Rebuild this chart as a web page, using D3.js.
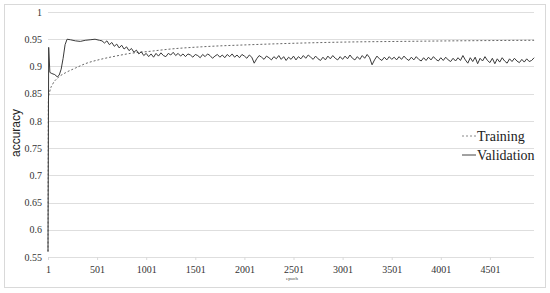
<!DOCTYPE html>
<html>
<head>
<meta charset="utf-8">
<script src="https://cdn.jsdelivr.net/npm/d3@7"></script>
<style>
  body { margin: 0; background: #fff; }
  .serif { font-family: "Times New Roman", "Liberation Serif", "DejaVu Serif", serif; }
  .tick text { font-family: "Times New Roman", "Liberation Serif", "DejaVu Serif", serif; font-size: 10px; fill: #333; }
</style>
</head>
<body>
<div id="chart"></div>
<script>
var margin = {top: 12, right: 16, bottom: 36, left: 48 },
    chartWidth = 550,
    chartHeight = 293,
    width = chartWidth - margin.left - margin.right,
    height = chartHeight - margin.top - margin.bottom;

// ticks
var xTicks = [1, 501, 1001, 1501, 2001, 2501, 3001, 3501, 4001, 4501],
    yTicks = [0.55, 0.6, 0.65, 0.7, 0.75, 0.8, 0.85, 0.9, 0.95, 1];

// training (dashed)
var trainEpochs = [1, 5, 20, 50, 100, 175, 280, 380, 535, 690, 840, 1050, 1250, 1560, 2075, 2590, 3100, 3610, 4125, 4951],
    trainAcc = [0.56, 0.84, 0.855, 0.868, 0.879, 0.888, 0.897, 0.905, 0.913, 0.919, 0.924, 0.928, 0.932, 0.936, 0.940, 0.943, 0.945, 0.946, 0.947, 0.948];

// validation, first part
var valEarlyEpochs = [1, 8, 20, 40, 70, 95, 115, 135, 155, 175, 195, 230, 280, 330, 380, 430, 480, 525],
    valEarlyAcc = [0.56, 0.935, 0.889, 0.887, 0.885, 0.881, 0.884, 0.895, 0.915, 0.940, 0.950, 0.949, 0.947, 0.946, 0.948, 0.949, 0.950, 0.948];

// validation, every 25 epochs from 551
var valStart = 551, valStep = 25;
var valAcc = [
  0.947, 0.943, 0.947, 0.940, 0.944, 0.937, 0.941, 0.934, 0.939, 0.932, 0.936, 0.929, 0.933, 0.926, 0.930, 0.923, 0.927, 0.920, 0.924,
  0.918, 0.923, 0.917, 0.924, 0.919, 0.925, 0.920, 0.918, 0.924, 0.921, 0.926, 0.920, 0.924, 0.919, 0.923, 0.918, 0.923, 0.921, 0.917, 0.922,
  0.920, 0.916, 0.922, 0.918, 0.923, 0.920, 0.915, 0.919, 0.922, 0.917, 0.921, 0.916, 0.922, 0.918, 0.923, 0.917, 0.921, 0.916, 0.922, 0.919,
  0.915, 0.921, 0.917, 0.906, 0.914, 0.920, 0.917, 0.913, 0.919, 0.916, 0.912, 0.918, 0.914, 0.920, 0.913, 0.918, 0.911, 0.917, 0.913, 0.919,
  0.912, 0.918, 0.914, 0.920, 0.915, 0.921, 0.917, 0.913, 0.919, 0.914, 0.911, 0.917, 0.912, 0.919, 0.914, 0.920, 0.915, 0.912, 0.918, 0.913,
  0.919, 0.914, 0.921, 0.915, 0.912, 0.918, 0.913, 0.920, 0.915, 0.922, 0.916, 0.903, 0.912, 0.919, 0.914, 0.911, 0.917, 0.912, 0.918, 0.913,
  0.917, 0.912, 0.918, 0.913, 0.919, 0.914, 0.911, 0.917, 0.912, 0.918, 0.913, 0.910, 0.916, 0.911, 0.917, 0.912, 0.918, 0.913, 0.910, 0.916,
  0.911, 0.917, 0.912, 0.909, 0.915, 0.910, 0.916, 0.911, 0.920, 0.912, 0.906, 0.916, 0.909, 0.917, 0.905, 0.915, 0.910, 0.918, 0.911, 0.907,
  0.915, 0.905, 0.914, 0.908, 0.916, 0.910, 0.906, 0.914, 0.909, 0.915, 0.910, 0.907, 0.913, 0.908, 0.914, 0.909, 0.911, 0.916
];

var training = trainEpochs.map((e, i) => [e, trainAcc[i]]);
var validation = valEarlyEpochs.map((e, i) => [e, valEarlyAcc[i]])
    .concat(valAcc.map((v, i) => [valStart + i * valStep, v]));

var root = d3.select("#chart")
    .append("svg")
    .attr("width", chartWidth)
    .attr("height", chartHeight);

// marco
root.append("rect")
    .attr("x", 4.5).attr("y", 4.5)
    .attr("width", 541).attr("height", 283)
    .attr("fill", "#fff")
    .attr("stroke", "#d9d9d9");

var svg = root.append("g")
    .attr("transform", "translate(" + margin.left + "," + margin.top + ")");

var xScale = d3.scaleLinear().domain([1, 4950]).range([0, width]);
var yScale = d3.scaleLinear().domain([0.55, 1]).range([height, 0]);

// grid
svg.append("g")
   .selectAll("line")
   .data(yTicks)
   .enter().append("line")
   .attr("x1", 0).attr("x2", width)
   .attr("y1", d => Math.round(yScale(d)) + 0.5)
   .attr("y2", d => Math.round(yScale(d)) + 0.5)
   .attr("stroke", "#dedede");

var xAxis = d3.axisBottom(xScale).tickValues(xTicks).tickSize(3).tickPadding(6).tickFormat(d3.format("d"));
var yAxis = d3.axisLeft(yScale).tickValues(yTicks).tickSize(0).tickPadding(6).tickFormat(d => d3.format("")(d));

svg.append("g")
   .attr("class", "axis-x")
   .attr("transform", "translate(0," + height + ")")
   .call(xAxis);

svg.append("g")
   .attr("class", "axis-y")
   .call(yAxis);

svg.selectAll(".domain").remove();
svg.selectAll(".axis-x .tick line").attr("stroke", "#d9d9d9");
svg.selectAll(".axis-x, .axis-y").attr("font-family", null);

svg.append("path")
   .datum(training)
   .attr("d", d3.line().curve(d3.curveMonotoneX).x(d => xScale(d[0])).y(d => yScale(d[1])))
   .attr("fill", "none")
   .attr("stroke", "#666")
   .attr("stroke-width", 1)
   .attr("stroke-dasharray", "2,2");

svg.append("path")
   .datum(validation)
   .attr("d", d3.line().x(d => xScale(d[0])).y(d => yScale(d[1])))
   .attr("fill", "none")
   .attr("stroke", "#3a3a3a")
   .attr("stroke-width", 1);

// titulos de ejes
root.append("text")
    .attr("transform", "translate(20,133) rotate(-90)")
    .attr("text-anchor", "middle")
    .style("font-family", "'Liberation Sans', Arial, sans-serif")
    .style("font-size", "12px")
    .attr("fill", "#222")
    .text("accuracy");

root.append("text")
    .attr("x", 292).attr("y", 280)
    .attr("text-anchor", "middle")
    .attr("class", "serif")
    .style("font-size", "5px")
    .attr("fill", "#404040")
    .text("epoch");

// leyenda
var legend = [["Training", "2,2", 141], ["Validation", null, 160]];
legend.forEach(function(l) {
    root.append("line")
        .attr("x1", 462).attr("x2", 476)
        .attr("y1", l[2] - 5).attr("y2", l[2] - 5)
        .attr("stroke", l[1] ? "#888" : "#444")
        .attr("stroke-dasharray", l[1]);
    root.append("text")
        .attr("x", 477).attr("y", l[2])
        .attr("class", "serif")
        .style("font-size", "14px")
        .attr("fill", "#222")
        .text(l[0]);
});
</script>
</body>
</html>
